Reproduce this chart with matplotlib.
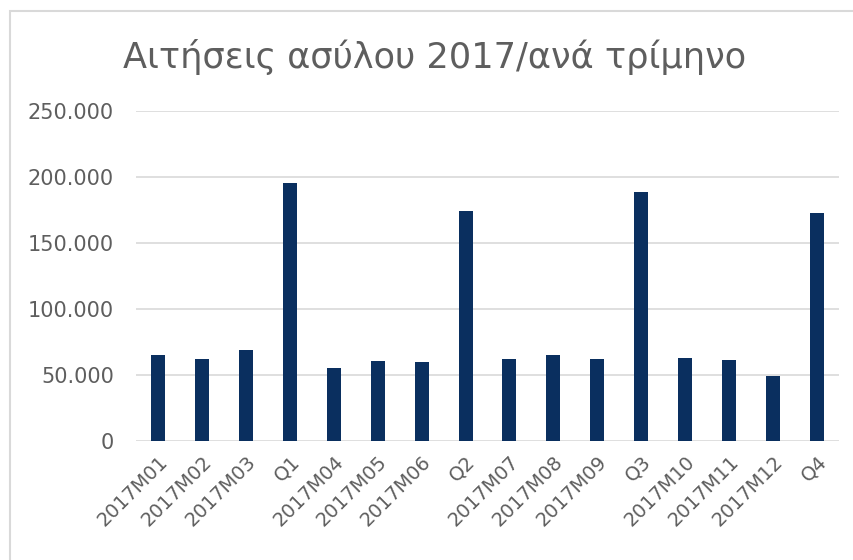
import matplotlib.pyplot as plt
import matplotlib.ticker as mticker
from matplotlib.patches import Rectangle
import numpy as np

categories = ["2017M01", "2017M02", "2017M03", "Q1",
              "2017M04", "2017M05", "2017M06", "Q2",
              "2017M07", "2017M08", "2017M09", "Q3",
              "2017M10", "2017M11", "2017M12", "Q4"]
values = [64800, 61700, 68800, 195200,
          54900, 60200, 59400, 174400,
          61700, 64800, 61700, 188800,
          62500, 61000, 49100, 172900]
y_ticks = [0, 50000, 100000, 150000, 200000, 250000]
title = "Αιτήσεις ασύλου 2017/ανά τρίμηνο"

bar_color = "#0A2F5F"
text_color = "#5E5E5E"
grid_color = "#D9D9D9"

plt.rcParams["font.family"] = ["DejaVu Sans"]

fig = plt.figure(figsize=(8.54, 5.60), dpi=100)
fig.patch.set_facecolor("white")

# chart frame (clipped at right/bottom like the source screenshot)
fig.patches.append(Rectangle((10 / 854, -0.1), 1.2, 1 - 11 / 560 + 0.1,
                             transform=fig.transFigure, fill=False,
                             edgecolor=grid_color, linewidth=1.5))

ax = fig.add_axes([136 / 854, 1 - 440.7 / 560, (839 - 136) / 854, (440.7 - 111) / 560])
x = np.arange(len(categories))
ax.bar(x, values, width=0.32, color=bar_color, zorder=3)

ax.set_xlim(-0.5, len(categories) - 0.5)
ax.set_ylim(0, 250000)
ax.set_yticks(y_ticks)
ax.yaxis.set_major_formatter(
    mticker.FuncFormatter(lambda v, p: f"{int(v):,}".replace(",", ".")))
ax.yaxis.grid(True, color=grid_color, linewidth=1.2, zorder=0)
ax.set_xticks(x)
ax.set_xticklabels(categories, rotation=45, ha="right", rotation_mode="anchor")

for s in ax.spines.values():
    s.set_visible(False)
ax.tick_params(axis="both", length=0, colors=text_color)
ax.tick_params(axis="x", labelsize=14, pad=8)
ax.tick_params(axis="y", labelsize=15, pad=16)

fig.text(435 / 854, 1 - 57 / 560, title, ha="center", va="center",
         fontsize=25.3, color=text_color)

fig.savefig("out.png", dpi=100)
